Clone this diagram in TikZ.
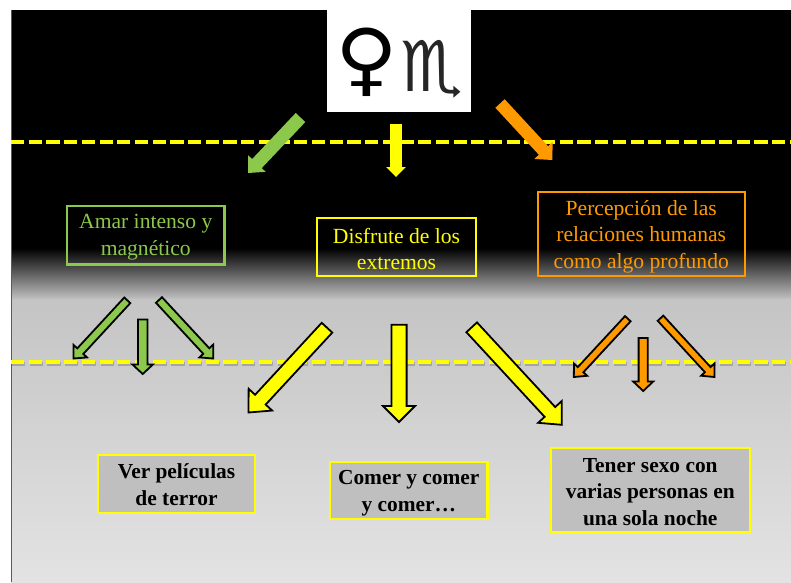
\documentclass[tikz,border=0pt]{standalone}
\usepackage{fontspec}
\setmainfont{Liberation Serif}
\newfontfamily\symfont{DejaVu Sans}
\usetikzlibrary{calc}
\definecolor{agreen}{HTML}{8CC84B}
\definecolor{ayellow}{HTML}{FFFF00}
\definecolor{aorange}{HTML}{FF9900}
\definecolor{boxgray}{HTML}{BFBFBF}
\tikzset{
  flatarrow/.style={fill=#1,draw=none},
  linedarrow/.style={fill=#1,draw=black,line width=1.8pt,miter limit=3},
  topbox/.style={draw=#1,text=#1,line width=2.2pt,fill=none,align=center,font=\fontsize{21.6}{26.5}\selectfont,inner sep=0pt},
  lowbox/.style={draw=ayellow,fill=boxgray,text=black,line width=2.2pt,align=center,font=\fontsize{21.4}{26.5}\selectfont\bfseries,inner sep=0pt},
  levelline/.style={draw=ayellow,line width=4pt,dash pattern=on 13.2pt off 4.5pt},
}
\newcommand{\blockarrow}[6]{%
  \coordinate (#2#3n) at ($(#3)!#5pt!(#2)$);
  \path[#1] ($(#2)!#4pt!90:(#3)$) -- ($(#2#3n)!#4pt!90:(#3)$) -- ($(#2#3n)!#6pt!90:(#3)$) -- (#3)
    -- ($(#2#3n)!#6pt!-90:(#3)$) -- ($(#2#3n)!#4pt!-90:(#3)$) -- ($(#2)!#4pt!-90:(#3)$) -- cycle;
}
% style, name, x1, y1, x2, y2, first-line strut height (moves text down), text
\newcommand{\txtbox}[8]{%
  \node[#1,minimum width=#5pt-#3pt-2.2pt,minimum height=#6pt-#4pt-2.2pt] (#2) at ({(#3+#5)/2},{(#4+#6)/2}) {\rule{0pt}{#7pt}#8};
}
\begin{document}
\begin{tikzpicture}[x=1pt,y=-1pt]
\useasboundingbox (0,0) rectangle (791,582);
\fill[white] (0,0) rectangle (791,582);
% backdrop
\fill[black] (11,10) rectangle (791,249);
\shade[top color=black,bottom color=black!23] (11,248) rectangle (791,300);
\shade[top color=black!23,bottom color=black!11] (11,299.5) rectangle (791,582);
\draw[teal,line width=0.8pt] (11.4,10) -- (11.4,582);
% sign box
\node[fill=white,minimum width=144pt,minimum height=102pt,inner sep=0pt] (signbox) at (399,61) {};
\node[font=\symfont\fontsize{80}{80}\selectfont,text=black,inner sep=0pt,xscale=1.07] (venus) at (366.5,62) {♀};
\node[font=\symfont\fontsize{70}{70}\selectfont,text=black!85,inner sep=0pt] (scorpio) at (432,69) {♏};
% level lines
\coordinate (l1a) at (11,142); \coordinate (l1b) at (791,142);
\coordinate (l2a) at (11,362); \coordinate (l2b) at (791,362);
\draw[levelline,draw=black!45,opacity=.6] ($(l2a)+(1,2)$) -- ($(l2b)+(1,2)$);
\draw[levelline] (l1a) -- (l1b);
\draw[levelline] (l2a) -- (l2b);
% arrow ends
\coordinate (ga) at (300.5,117.5); \coordinate (gb) at (248,173);
\coordinate (ya) at (396,124);     \coordinate (yb) at (396,177);
\coordinate (oa) at (500,103.5);   \coordinate (ob) at (552.3,160);
\blockarrow{flatarrow=agreen}{ga}{gb}{6.6}{13}{12}
\blockarrow{flatarrow=ayellow}{ya}{yb}{5.9}{10}{9.8}
\blockarrow{flatarrow=aorange}{oa}{ob}{6.3}{13}{12.5}
\coordinate (g1a) at (127.3,300.3); \coordinate (g1b) at (73.5,358.5);
\coordinate (g2a) at (142.7,319.5); \coordinate (g2b) at (142.7,374);
\coordinate (g3a) at (159,300);     \coordinate (g3b) at (213.2,358.5);
\blockarrow{linedarrow=agreen}{g1a}{g1b}{4.1}{10}{9.2}
\blockarrow{linedarrow=agreen}{g2a}{g2b}{4.7}{9.5}{10.2}
\blockarrow{linedarrow=agreen}{g3a}{g3b}{4.1}{10.2}{9.4}
\coordinate (y1a) at (327,327.7);   \coordinate (y1b) at (248.5,412.5);
\coordinate (y2a) at (399,324.8);   \coordinate (y2b) at (399,422);
\coordinate (y3a) at (471.7,327.3); \coordinate (y3b) at (561.8,424.8);
\blockarrow{linedarrow=ayellow}{y1a}{y1b}{7.2}{17.5}{16}
\blockarrow{linedarrow=ayellow}{y2a}{y2b}{7.6}{16}{16}
\blockarrow{linedarrow=ayellow}{y3a}{y3b}{7.2}{17.5}{16}
\coordinate (o1a) at (627.8,318.7); \coordinate (o1b) at (573.8,377);
\coordinate (o2a) at (643.2,338);   \coordinate (o2b) at (643.2,391);
\coordinate (o3a) at (660.5,318.2); \coordinate (o3b) at (714.5,377);
\blockarrow{linedarrow=aorange}{o1a}{o1b}{3.8}{10}{9}
\blockarrow{linedarrow=aorange}{o2a}{o2b}{4.6}{9.5}{10}
\blockarrow{linedarrow=aorange}{o3a}{o3b}{3.8}{10}{9}
% boxes
\txtbox{topbox=agreen}{amar}{66}{204.5}{225.5}{265.5}{19}{Amar intenso y\\magnético}
\txtbox{topbox=ayellow}{disfrute}{316}{217}{477}{277}{19}{Disfrute de los\\extremos}
\txtbox{topbox=aorange}{percep}{536.5}{190.5}{746}{277}{21}{Percepción de las\\relaciones humanas\\como algo profundo}
\txtbox{lowbox}{ver}{97}{453.5}{256}{514}{17}{Ver películas\\de terror}
\txtbox{lowbox}{comer}{329}{460.5}{488.5}{520}{20}{Comer y comer\\y comer…}
\txtbox{lowbox}{tener}{549.5}{447}{751}{533.5}{17}{Tener sexo con\\varias personas en\\una sola noche}
\end{tikzpicture}
\end{document}
